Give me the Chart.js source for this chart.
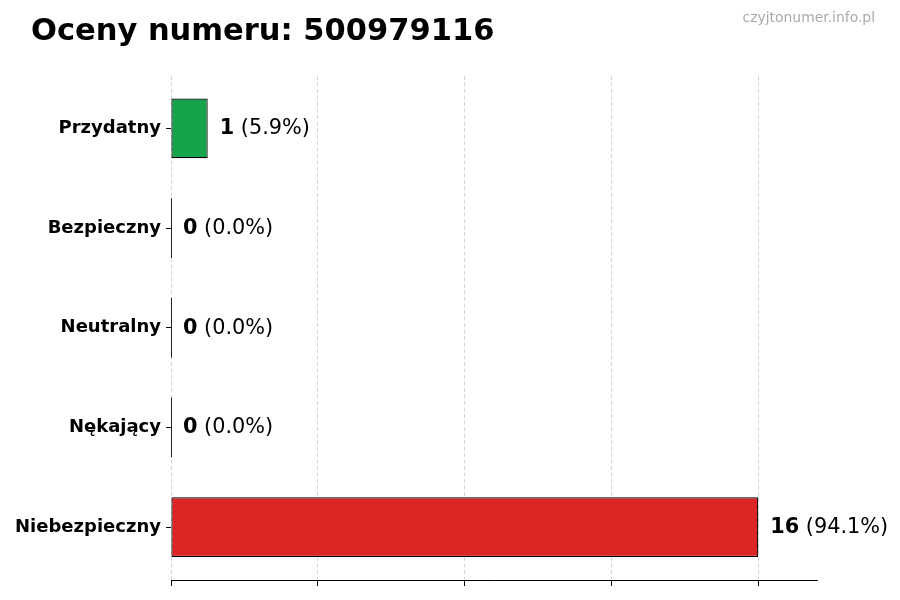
<!DOCTYPE html>
<html>
<head>
<meta charset="utf-8">
<script src="https://cdn.jsdelivr.net/npm/chart.js@4.4.1/dist/chart.umd.min.js"></script>
<style>
html,body{margin:0;padding:0;background:#fff;}
#wrap{position:relative;width:900px;height:600px;}
</style>
</head>
<body>
<div id="wrap"><canvas id="c" width="900" height="600"></canvas></div>
<script>
const titleText = "Oceny numeru: 500979116";
const watermark = "czyjtonumer.info.pl";
const categories = ["Przydatny", "Bezpieczny", "Neutralny", "Nękający", "Niebezpieczny"];
const counts = [1, 0, 0, 0, 16];
const percents = ["5.9%", "0.0%", "0.0%", "0.0%", "94.1%"];
const colors = ["#16a34a", "#16a34a", "#9ca3af", "#dc2626", "#dc2626"];
const xTicks = [0, 4, 8, 12, 16];
const xMax = 17.6;

const points = counts.map((v, i) => ({x: v, y: i}));
const FONT = "'DejaVu Sans', sans-serif";

const decor = {
  id: 'decor',
  afterDatasetsDraw(chart) {
    const ctx = chart.ctx;
    const meta = chart.getDatasetMeta(0);
    ctx.save();
    meta.data.forEach((bar, i) => {
      const half = bar.height / 2;
      if (counts[i] === 0) {
        ctx.strokeStyle = '#222';
        ctx.lineWidth = 1;
        ctx.beginPath();
        ctx.moveTo(Math.round(bar.x) + 0.5, bar.y - half);
        ctx.lineTo(Math.round(bar.x) + 0.5, bar.y + half);
        ctx.stroke();
      }
      const x0 = bar.x + 12;
      ctx.textBaseline = 'middle';
      ctx.textAlign = 'left';
      ctx.fillStyle = '#000';
      ctx.font = "bold 20.8px " + FONT;
      const boldTxt = String(counts[i]);
      ctx.fillText(boldTxt, x0, bar.y + 0.5);
      const w = ctx.measureText(boldTxt).width;
      ctx.font = "20.8px " + FONT;
      ctx.fillText(" (" + percents[i] + ")", x0 + w, bar.y + 0.5);
    });
    ctx.restore();
  },
  afterDraw(chart) {
    const ctx = chart.ctx;
    ctx.save();
    ctx.textBaseline = 'alphabetic';
    ctx.textAlign = 'left';
    ctx.fillStyle = '#000';
    ctx.font = "bold 30.5px " + FONT;
    ctx.fillText(titleText, 31, 40);
    ctx.textAlign = 'right';
    ctx.fillStyle = '#aaaaaa';
    ctx.font = "13.9px " + FONT;
    ctx.fillText(watermark, 875, 22);
    ctx.restore();
  }
};

new Chart(document.getElementById('c'), {
  type: 'bar',
  data: {
    datasets: [{
      data: points,
      backgroundColor: colors,
      borderColor: '#000',
      borderWidth: 1.2,
      borderSkipped: false,
      categoryPercentage: 1,
      barPercentage: 0.6
    }]
  },
  options: {
    indexAxis: 'y',
    responsive: false,
    animation: false,
    events: [],
    layout: {padding: {left: 0, right: 83, top: 76, bottom: 10}},
    plugins: {legend: {display: false}, tooltip: {enabled: false}, title: {display: false}},
    scales: {
      x: {
        type: 'linear',
        min: 0,
        max: xMax,
        afterBuildTicks(scale) { scale.ticks = xTicks.map(v => ({value: v})); },
        afterFit(scale) { scale.height = 10; },
        ticks: {display: false},
        grid: {
          display: true,
          drawOnChartArea: true,
          drawTicks: true,
          tickLength: 6,
          color: '#cccccc',
          lineWidth: 0.8,
          tickColor: '#000',
          tickWidth: 1
        },
        border: {display: true, color: '#000', width: 1, dash: [4, 2.5]}
      },
      y: {
        type: 'linear',
        reverse: true,
        offset: false,
        min: -0.525,
        max: 4.53,
        afterBuildTicks(scale) { scale.ticks = categories.map((c, i) => ({value: i})); },
        afterFit(scale) { scale.width = 171; },
        ticks: {
          callback: (v) => categories[v],
          color: '#000',
          font: {family: FONT, size: 18, weight: 'bold'},
          padding: 5
        },
        grid: {
          display: true,
          offset: false,
          drawOnChartArea: false,
          drawTicks: true,
          tickLength: 5,
          tickColor: '#000',
          tickWidth: 1
        },
        border: {display: false}
      }
    }
  },
  plugins: [decor]
});
</script>
</body>
</html>
